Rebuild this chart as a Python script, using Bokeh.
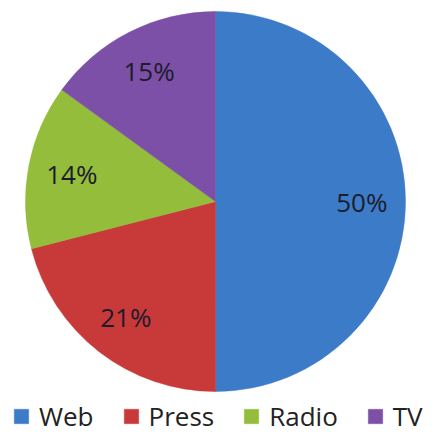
import math
from bokeh.plotting import figure
from bokeh.models import Range1d, Legend, LegendItem, ColumnDataSource
from bokeh.embed import file_html
from bokeh.resources import INLINE
from bokeh.core.properties import value

categories = ["Web", "Press", "Radio", "TV"]
shares = [50, 21, 14, 15]
labels = ["50%", "21%", "14%", "15%"]
colors = ["#3C7BC8", "#C8393A", "#93BD3A", "#7B50A6"]

W, H = 437, 435
p = figure(width=W, height=H, output_backend="svg", toolbar_location=None,
           x_range=Range1d(0, W), y_range=Range1d(0, H), min_border=0)
p.axis.visible = False
p.grid.visible = False
p.outline_line_color = None
p.background_fill_color = "white"

cx, cy, R = 215, 234, 190
total = float(sum(shares))

starts, ends, lx, ly = [], [], [], []
cum = 0.0
for s in shares:
    a0 = math.pi / 2 - 2 * math.pi * cum / total
    a1 = math.pi / 2 - 2 * math.pi * (cum + s) / total
    starts.append(a0)
    ends.append(a1)
    mid = (a0 + a1) / 2
    lx.append(cx + 0.77 * R * math.cos(mid))
    ly.append(cy + 0.77 * R * math.sin(mid))
    cum += s

src = ColumnDataSource(dict(cat=categories, start=starts, end=ends, color=colors,
                            lx=lx, ly=ly, label=labels))
wr = p.wedge(x=cx, y=cy, radius=R, start_angle="start", end_angle="end",
             direction="clock", fill_color="color", line_color="color",
             line_width=0.5, source=src)

p.text(x="lx", y="ly", text="label", source=src, text_align="center",
       text_baseline="middle", text_font=value("Open Sans"),
       text_font_size="26px", text_color="#1c1c2c")

items = [LegendItem(label=c, renderers=[wr], index=i) for i, c in enumerate(categories)]

legend = Legend(items=items, orientation="horizontal", location=(12, 1),
                glyph_width=18, glyph_height=18, label_standoff=9, spacing=28,
                padding=0, margin=0, border_line_color=None,
                background_fill_alpha=0, label_text_font="Open Sans",
                label_text_font_size="26px", label_text_color="#222222")
p.add_layout(legend, "center")

open("out.html", "w").write(file_html(p, INLINE))
